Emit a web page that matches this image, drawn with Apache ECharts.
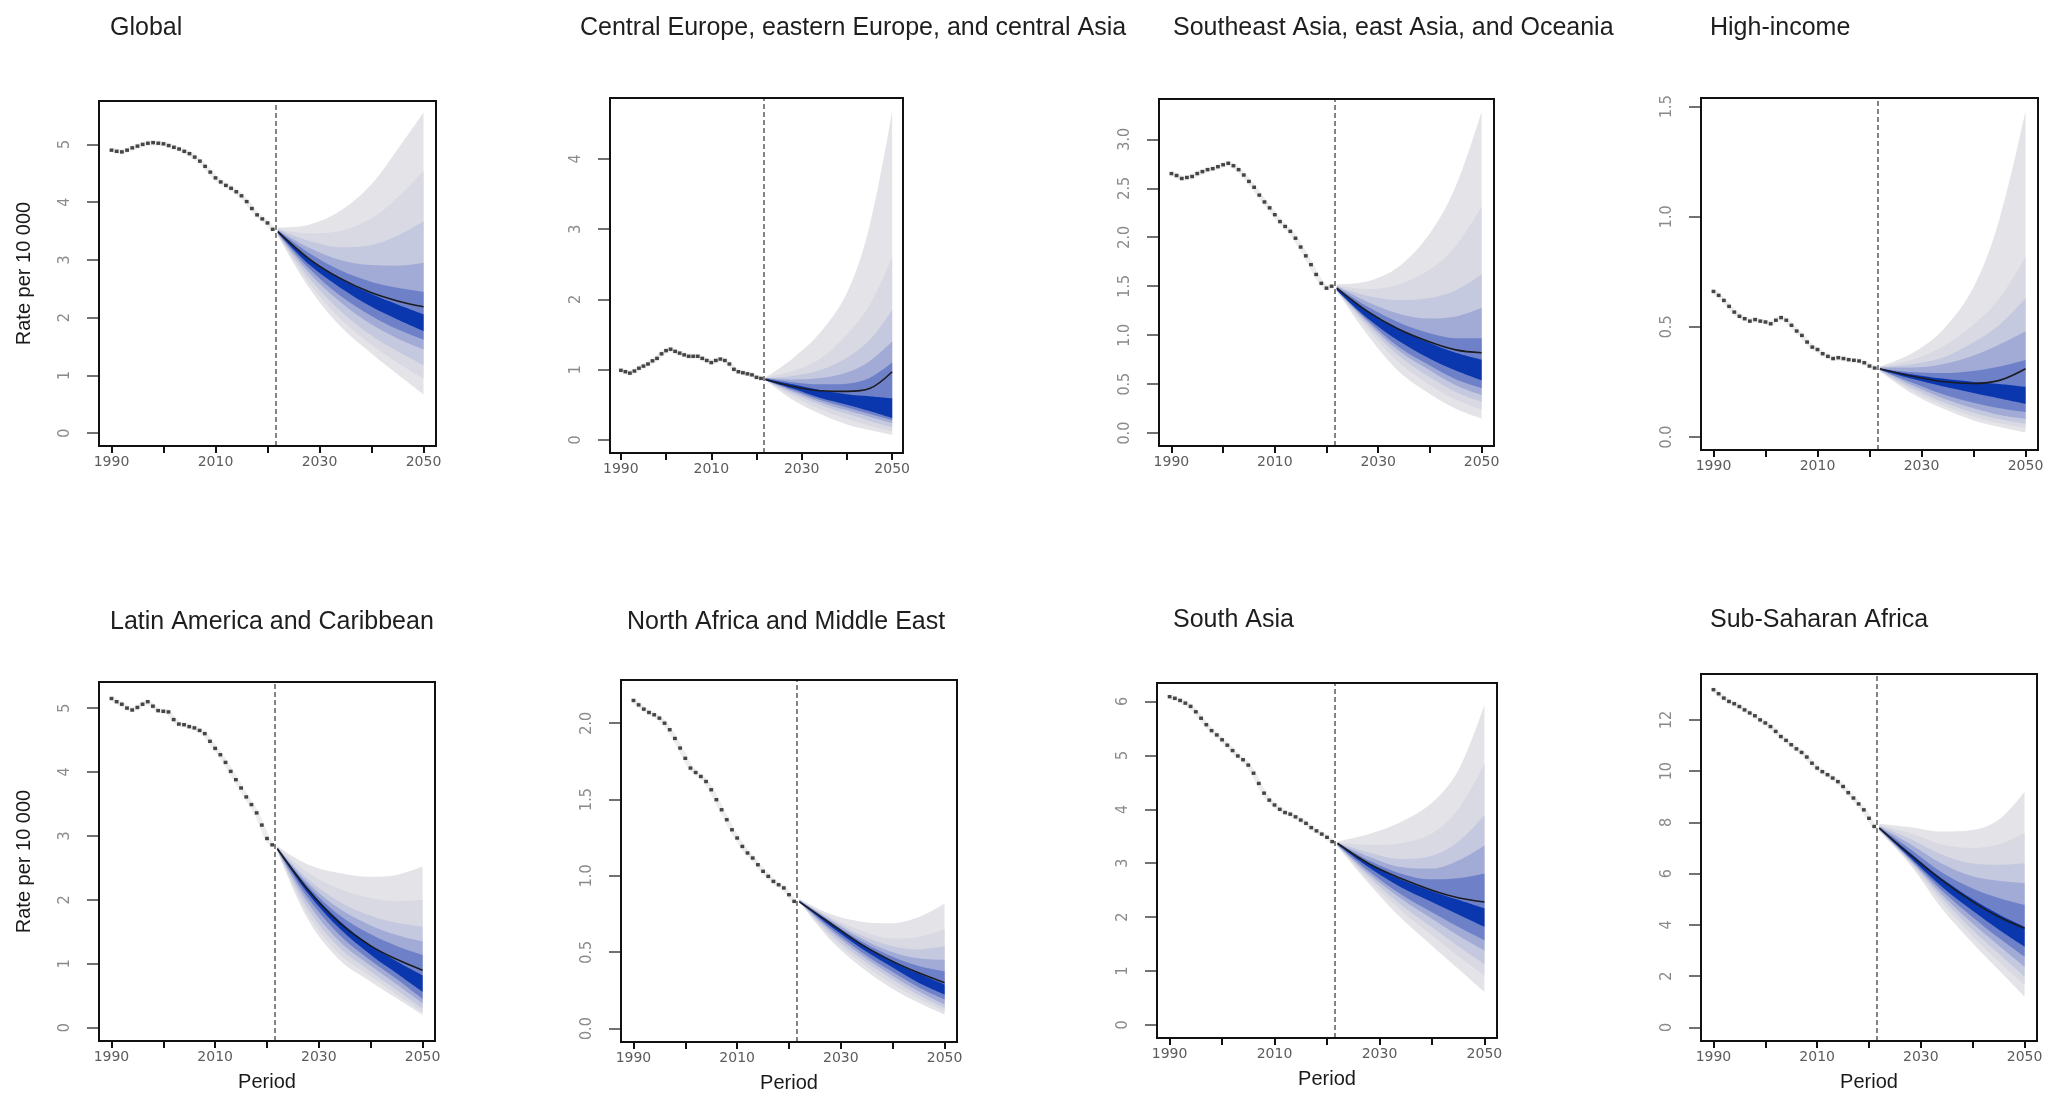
<!DOCTYPE html>
<html><head><meta charset="utf-8">
<script src="https://cdn.jsdelivr.net/npm/echarts@6/dist/echarts.min.js"></script>
<style>html,body{margin:0;padding:0;background:#fff}#c{width:2066px;height:1099px}</style>
</head><body><div id="c"></div><script>
// ---------- axes / labels ----------
const histYears = [1990,1991,1992,1993,1994,1995,1996,1997,1998,1999,2000,2001,2002,2003,2004,2005,2006,2007,2008,2009,2010,2011,2012,2013,2014,2015,2016,2017,2018,2019,2020,2021];
const fcYears = [2022, 2028, 2034, 2040, 2045, 2050];
const forecastStart = 2021.5;
const xTickYears = [1990, 2000, 2010, 2020, 2030, 2040, 2050];
const xLabelYears = [1990, 2010, 2030, 2050];
const titles = ["Global", "Central Europe, eastern Europe, and central Asia", "Southeast Asia, east Asia, and Oceania", "High-income", "Latin America and Caribbean", "North Africa and Middle East", "South Asia", "Sub-Saharan Africa"];
const yDataMax = [5.53, 4.68, 3.28, 1.48, 5.2, 2.195, 6.1, 13.26];
const yTickValues = [[0,1,2,3,4,5],[0,1,2,3,4],[0,0.5,1,1.5,2,2.5,3],[0,0.5,1,1.5],[0,1,2,3,4,5],[0,0.5,1,1.5,2],[0,1,2,3,4,5,6],[0,2,4,6,8,10,12]];
const yTickDecimals = [0,0,1,1,0,1,0,0];

// ---------- Global ----------
const global_hist = [4.90,4.88,4.87,4.90,4.94,4.97,5.00,5.02,5.03,5.02,5.01,4.98,4.95,4.92,4.88,4.84,4.78,4.71,4.62,4.52,4.42,4.35,4.29,4.24,4.18,4.11,4.01,3.89,3.78,3.71,3.64,3.53];
const global_mean = [3.49,3.02,2.68,2.43,2.29,2.19];
const global_upper = [[3.56,3.61,3.85,4.31,4.91,5.55],[3.54,3.46,3.50,3.72,4.08,4.54],[3.53,3.33,3.22,3.26,3.42,3.67],[3.52,3.21,3.00,2.91,2.90,2.95],[3.51,3.12,2.82,2.62,2.52,2.45]];
const global_lower = [[3.42,2.52,1.85,1.38,1.02,0.67],[3.43,2.60,1.98,1.53,1.22,0.95],[3.44,2.69,2.12,1.69,1.42,1.18],[3.45,2.78,2.27,1.88,1.64,1.45],[3.46,2.85,2.38,2.03,1.80,1.62]];
const global_core = [[3.50,3.02,2.68,2.41,2.23,2.06],[3.47,2.92,2.52,2.19,1.97,1.77]];

// ---------- Central Europe, eastern Europe, and central Asia ----------
const ce_hist = [0.99,0.97,0.95,0.98,1.02,1.05,1.08,1.125,1.16,1.225,1.27,1.29,1.26,1.235,1.21,1.19,1.19,1.19,1.16,1.13,1.10,1.13,1.15,1.13,1.08,1.005,0.97,0.955,0.94,0.925,0.89,0.875];
const ce_mean = [0.86,0.76,0.70,0.69,0.73,0.97];
const ce_upper = [[0.89,1.16,1.52,2.09,3.04,4.68],[0.89,0.98,1.15,1.50,1.92,2.60],[0.88,0.91,0.99,1.17,1.42,1.85],[0.88,0.86,0.88,0.96,1.12,1.40],[0.88,0.82,0.79,0.80,0.88,1.10]];
const ce_lower = [[0.85,0.57,0.37,0.22,0.14,0.07],[0.85,0.62,0.44,0.30,0.20,0.12],[0.85,0.66,0.50,0.37,0.27,0.18],[0.85,0.69,0.54,0.42,0.33,0.24],[0.85,0.71,0.57,0.46,0.37,0.28]];
const ce_core = [[0.87,0.79,0.71,0.65,0.62,0.59],[0.85,0.73,0.60,0.50,0.41,0.31]];

// ---------- Southeast Asia, east Asia, and Oceania ----------
const sea_hist = [2.65,2.63,2.60,2.61,2.62,2.65,2.67,2.69,2.70,2.72,2.74,2.755,2.73,2.69,2.635,2.57,2.51,2.43,2.36,2.30,2.23,2.16,2.11,2.06,1.99,1.90,1.81,1.72,1.62,1.53,1.48,1.50];
const sea_mean = [1.48,1.24,1.06,0.93,0.85,0.82];
const sea_upper = [[1.52,1.55,1.70,2.04,2.52,3.28],[1.51,1.47,1.52,1.67,1.91,2.31],[1.50,1.40,1.36,1.38,1.46,1.62],[1.50,1.34,1.22,1.17,1.19,1.28],[1.49,1.29,1.13,1.02,0.97,0.97]];
const sea_lower = [[1.45,1.00,0.63,0.40,0.25,0.15],[1.45,1.06,0.72,0.49,0.34,0.24],[1.45,1.10,0.79,0.57,0.42,0.32],[1.46,1.13,0.84,0.64,0.49,0.39],[1.46,1.15,0.88,0.69,0.55,0.46]];
const sea_core = [[1.48,1.25,1.06,0.92,0.82,0.75],[1.46,1.17,0.94,0.76,0.64,0.54]];

// ---------- High-income ----------
const hi_hist = [0.661,0.643,0.62,0.593,0.567,0.548,0.537,0.526,0.533,0.526,0.522,0.514,0.53,0.542,0.53,0.507,0.481,0.461,0.431,0.408,0.397,0.378,0.366,0.356,0.36,0.356,0.351,0.348,0.345,0.337,0.322,0.313];
const hi_mean = [0.31,0.277,0.252,0.243,0.257,0.31];
const hi_upper = [[0.32,0.378,0.484,0.68,0.99,1.48],[0.32,0.35,0.41,0.51,0.63,0.82],[0.315,0.33,0.36,0.43,0.51,0.63],[0.315,0.315,0.33,0.37,0.42,0.48],[0.31,0.295,0.29,0.30,0.32,0.35]];
const hi_lower = [[0.30,0.20,0.13,0.075,0.045,0.02],[0.30,0.212,0.145,0.092,0.062,0.042],[0.30,0.225,0.16,0.11,0.08,0.06],[0.305,0.237,0.177,0.13,0.10,0.083],[0.305,0.248,0.195,0.155,0.13,0.113]];
const hi_core = [[0.31,0.285,0.265,0.25,0.24,0.227],[0.305,0.265,0.23,0.20,0.175,0.151]];

// ---------- Latin America and Caribbean ----------
const lac_hist = [5.15,5.10,5.06,5.00,4.97,5.01,5.06,5.10,5.03,4.96,4.95,4.94,4.82,4.75,4.74,4.71,4.69,4.65,4.60,4.48,4.37,4.27,4.15,4.01,3.88,3.75,3.61,3.49,3.36,3.17,2.96,2.86];
const lac_mean = [2.80,2.15,1.64,1.28,1.07,0.90];
const lac_upper = [[2.84,2.55,2.42,2.36,2.39,2.52],[2.83,2.42,2.17,2.03,1.98,2.00],[2.82,2.32,1.97,1.75,1.64,1.58],[2.82,2.26,1.86,1.60,1.45,1.35],[2.81,2.21,1.76,1.46,1.28,1.14]];
const lac_lower = [[2.76,1.68,1.06,0.72,0.46,0.20],[2.77,1.76,1.15,0.80,0.52,0.24],[2.77,1.85,1.25,0.88,0.59,0.30],[2.78,1.94,1.35,0.97,0.68,0.38],[2.78,2.02,1.45,1.05,0.76,0.45]];
const lac_core = [[2.81,2.17,1.67,1.29,1.04,0.82],[2.79,2.09,1.55,1.14,0.85,0.56]];

// ---------- North Africa and Middle East ----------
const name_hist = [2.149,2.12,2.092,2.07,2.055,2.033,2.00,1.957,1.90,1.837,1.77,1.706,1.677,1.651,1.618,1.564,1.499,1.433,1.368,1.302,1.248,1.193,1.15,1.117,1.073,1.03,0.997,0.964,0.942,0.921,0.877,0.833];
const name_mean = [0.83,0.69,0.55,0.44,0.365,0.30];
const name_upper = [[0.85,0.75,0.70,0.69,0.73,0.82],[0.84,0.73,0.64,0.59,0.60,0.65],[0.84,0.72,0.61,0.54,0.52,0.54],[0.84,0.71,0.59,0.50,0.46,0.45],[0.84,0.70,0.57,0.47,0.41,0.375]];
const name_lower = [[0.83,0.58,0.40,0.26,0.17,0.092],[0.83,0.60,0.43,0.29,0.195,0.113],[0.83,0.62,0.455,0.32,0.22,0.135],[0.83,0.64,0.48,0.345,0.245,0.157],[0.83,0.655,0.50,0.37,0.27,0.19]];
const name_core = [[0.835,0.69,0.555,0.44,0.36,0.288],[0.83,0.67,0.525,0.40,0.30,0.223]];

// ---------- South Asia ----------
const sa_hist = [6.09,6.06,6.02,5.97,5.91,5.81,5.69,5.57,5.46,5.38,5.29,5.19,5.09,4.99,4.92,4.82,4.67,4.48,4.30,4.17,4.08,4.00,3.94,3.91,3.86,3.80,3.74,3.66,3.60,3.54,3.48,3.40];
const sa_mean = [3.37,2.99,2.72,2.50,2.36,2.28];
const sa_upper = [[3.40,3.54,3.76,4.12,4.72,5.94],[3.39,3.34,3.37,3.55,4.00,4.85],[3.38,3.20,3.08,3.14,3.40,3.89],[3.38,3.12,2.93,2.90,3.05,3.33],[3.37,3.05,2.81,2.70,2.72,2.81]];
const sa_lower = [[3.31,2.62,1.99,1.47,1.04,0.61],[3.32,2.68,2.13,1.66,1.28,0.92],[3.33,2.75,2.24,1.81,1.46,1.13],[3.33,2.80,2.35,1.97,1.66,1.38],[3.34,2.85,2.43,2.09,1.82,1.57]];
const sa_core = [[3.37,3.00,2.70,2.48,2.32,2.16],[3.35,2.92,2.56,2.28,2.05,1.82]];

// ---------- Sub-Saharan Africa ----------
const ssa_hist = [13.18,13.02,12.85,12.72,12.63,12.52,12.39,12.27,12.16,12.00,11.88,11.74,11.55,11.35,11.20,11.03,10.87,10.73,10.55,10.31,10.12,9.98,9.86,9.73,9.59,9.40,9.16,8.95,8.72,8.49,8.16,7.84];
const ssa_mean = [7.78,6.73,5.75,4.91,4.32,3.87];
const ssa_upper = [[7.95,7.81,7.64,7.70,8.10,9.20],[7.90,7.58,7.15,7.00,7.15,7.58],[7.87,7.35,6.75,6.40,6.35,6.41],[7.84,7.15,6.40,5.90,5.72,5.63],[7.81,6.95,6.05,5.42,5.05,4.78]];
const ssa_lower = [[7.65,6.34,4.65,3.28,2.24,1.20],[7.67,6.40,4.88,3.55,2.57,1.65],[7.69,6.46,5.05,3.80,2.88,1.98],[7.71,6.51,5.20,4.05,3.20,2.37],[7.73,6.56,5.35,4.30,3.50,2.76]];
const ssa_core = [[7.79,6.80,5.82,5.00,4.42,3.93],[7.75,6.62,5.50,4.55,3.82,3.15]];

const panelData = [
  {hist: global_hist, mean: global_mean, upper: global_upper, lower: global_lower, core: global_core},
  {hist: ce_hist, mean: ce_mean, upper: ce_upper, lower: ce_lower, core: ce_core},
  {hist: sea_hist, mean: sea_mean, upper: sea_upper, lower: sea_lower, core: sea_core},
  {hist: hi_hist, mean: hi_mean, upper: hi_upper, lower: hi_lower, core: hi_core},
  {hist: lac_hist, mean: lac_mean, upper: lac_upper, lower: lac_lower, core: lac_core},
  {hist: name_hist, mean: name_mean, upper: name_upper, lower: name_lower, core: name_core},
  {hist: sa_hist, mean: sa_mean, upper: sa_upper, lower: sa_lower, core: sa_core},
  {hist: ssa_hist, mean: ssa_mean, upper: ssa_upper, lower: ssa_lower, core: ssa_core}
];

// ---------- layout / style ----------
const gridBoxes = [[99,101,337,345],[610,98,293,355],[1159,99,335,347],[1701,98,337,352],[99,682,336,359],[621,680,336,362],[1157,683,340,355],[1701,674,336,367]];
const titlePos = [[110,28],[580,28],[1173,28],[1710,28],[110,622],[627,622],[1173,620],[1710,620]];
// fan colours: outer grey -> inner blue, last = dark core
const fanColors = ['#e4e4e8','#d8d9e2','#c5c9df','#a2abd6','#6e80c7','#0a37ad'];
const SANS = '"Liberation Sans", Arial, Helvetica, sans-serif';

const pts = (xs, ys) => xs.map((x, j) => [x, ys[j]]);
// value-first rows (dimension 0 = y) so that the stack is computed on y
const vpts = (xs, ys) => xs.map((x, j) => [ys[j], x]);

const grid = [], xAxis = [], yAxis = [], series = [], graphic = [];
panelData.forEach((p, i) => {
  const b = gridBoxes[i];
  grid.push({left: b[0], top: b[1], width: b[2], height: b[3], show: false});
  const bottomRow = i >= 4;
  xAxis.push({
    type: 'value', gridIndex: i, min: 1987.6, max: 2052.4,
    axisLine: {show: false, onZero: false}, splitLine: {show: false},
    axisTick: {show: true, customValues: xTickYears, length: 7, lineStyle: {color: '#111', width: 2}},
    axisLabel: {show: true, customValues: xLabelYears, margin: 9, color: '#5c5c5c', fontSize: 14, fontFamily: '"DejaVu Sans", sans-serif', formatter: v => String(v)},
    name: bottomRow ? 'Period' : '', nameLocation: 'middle', nameGap: 31,
    nameTextStyle: {fontSize: 20, color: '#1a1a1a', fontFamily: SANS}
  });
  const M = yDataMax[i];
  const d = yTickDecimals[i];
  yAxis.push({
    type: 'value', gridIndex: i, min: -0.04 * M, max: 1.04 * M,
    axisLine: {show: false, onZero: false}, splitLine: {show: false},
    axisTick: {show: true, customValues: yTickValues[i], length: 12, lineStyle: {color: '#444', width: 1.5}},
    axisLabel: {show: true, customValues: yTickValues[i], rotate: 90, margin: 26, color: '#8a8a8a', fontSize: 16,
      fontFamily: '"Liberation Sans Narrow", "DejaVu Sans Condensed", sans-serif', formatter: v => Number(v).toFixed(d)},
    name: (i === 0 || i === 4) ? 'Rate per 10 000' : '', nameLocation: 'middle', nameGap: 65, nameRotate: 90,
    nameTextStyle: {fontSize: 20, color: '#1a1a1a', fontFamily: SANS}
  });
  // fan bands (outer -> inner), each band = stacked pair: lower bound + (upper - lower)
  const bands = [
    [p.lower[0], p.upper[0]], [p.lower[1], p.upper[1]], [p.lower[2], p.upper[2]],
    [p.lower[3], p.upper[3]], [p.lower[4], p.upper[4]], [p.core[1], p.core[0]]
  ];
  bands.forEach((bd, k) => {
    const lo = bd[0], hi = bd[1];
    const stack = 'p' + i + 'b' + k;
    series.push({type: 'line', xAxisIndex: i, yAxisIndex: i, stack, encode: {x: 1, y: 0},
      data: vpts(fcYears, lo), smooth: 0.35, symbol: 'none', lineStyle: {width: 0, opacity: 0},
      silent: true, z: 2 + k, emphasis: {disabled: true}});
    series.push({type: 'line', xAxisIndex: i, yAxisIndex: i, stack, encode: {x: 1, y: 0},
      data: vpts(fcYears, hi.map((v, j) => v - lo[j])), smooth: 0.35, symbol: 'none',
      lineStyle: {width: 0, opacity: 0}, areaStyle: {color: fanColors[k], opacity: 1},
      silent: true, z: 2 + k, emphasis: {disabled: true}});
  });
  // mean forecast line + dashed forecast start
  series.push({type: 'line', xAxisIndex: i, yAxisIndex: i, data: pts(fcYears, p.mean), smooth: 0.35, symbol: 'none',
    lineStyle: {color: '#1b1b22', width: 1.6}, silent: true, z: 20,
    markLine: {silent: true, symbol: ['none', 'none'], label: {show: false},
      lineStyle: {type: [5, 3], color: '#777', width: 1.8}, data: [{xAxis: forecastStart}]}});
  // historical
  series.push({type: 'line', xAxisIndex: i, yAxisIndex: i, data: pts(histYears, p.hist), symbol: 'none',
    lineStyle: {color: 'rgba(140,140,140,0.15)', width: 5}, silent: true, z: 21});
  series.push({type: 'scatter', xAxisIndex: i, yAxisIndex: i, data: pts(histYears, p.hist), symbol: 'rect',
    symbolSize: [3.8, 3.4], itemStyle: {color: '#1a1a1a'}, silent: true, z: 22});
  // plot frame on top
  graphic.push({type: 'rect', z: 100, silent: true, shape: {x: b[0], y: b[1], width: b[2], height: b[3]},
    style: {fill: null, stroke: '#111', lineWidth: 2}});
  graphic.push({type: 'text', x: titlePos[i][0], y: titlePos[i][1], silent: true, z: 100,
    style: {text: titles[i], fill: '#1e1e1e', font: '25px ' + SANS, verticalAlign: 'middle', align: 'left'}});
});

const chart = echarts.init(document.getElementById('c'), null, {renderer: 'canvas'});
chart.setOption({animation: false, backgroundColor: '#fff', grid, xAxis, yAxis, series, graphic});
</script></body></html>
